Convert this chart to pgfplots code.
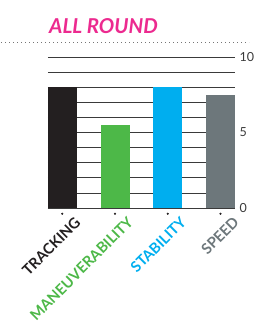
\documentclass[border=0pt]{standalone}
\usepackage{pgfplots}
\pgfplotsset{compat=1.18}
\usepackage{fontspec}
\setmainfont{Lato}
\definecolor{cTrack}{HTML}{231F20}
\definecolor{cMan}{HTML}{4DB848}
\definecolor{cStab}{HTML}{00AEEF}
\definecolor{cSpeed}{HTML}{6D777B}
\definecolor{cPink}{HTML}{EC2A8F}
\definecolor{cGrid}{HTML}{3A3A3A}
\begin{document}
\begin{tikzpicture}[x=1pt,y=1pt]
\useasboundingbox (0,0) rectangle (263,322);
\draw[cGrid!70, line width=0.9pt, dash pattern=on 0.9pt off 3.1pt] (1,280) -- (249,280);
\node[anchor=base west, text=cPink, font=\fontsize{20.5}{22}\selectfont\bfseries\itshape, inner sep=0pt] at (49,288) {ALL ROUND};
\begin{axis}[
  at={(48pt,114pt)}, anchor=south west,
  scale only axis, width=187pt, height=151pt,
  xmin=-0.271, xmax=3.275, ymin=0, ymax=10,
  axis line style={draw=none},
  ytick={0,1,...,10},
  yticklabels={0,,,,,5,,,,,10},
  yticklabel pos=right,
  ymajorgrids, grid style={cGrid, line width=0.8pt},
  major tick length=0pt,
  yticklabel style={font=\fontsize{12.5}{14}\selectfont, text=cGrid, xshift=1pt},
  /pgf/number format/assume math mode=true,
  xtick={0,1,2,3},
  xticklabels={},
  clip=false,
  ybar, bar width=29pt,
  bar shift=0pt,
]
\addplot[fill=cTrack, draw=none] coordinates {(0,8)};
\addplot[fill=cMan, draw=none] coordinates {(1,5.5)};
\addplot[fill=cStab, draw=none] coordinates {(2,8)};
\addplot[fill=cSpeed, draw=none] coordinates {(3,7.5)};
\addplot[only marks, mark=*, mark size=0.9pt, color=cTrack] coordinates {(0,-0.38) (1,-0.38) (2,-0.38) (3,-0.38)};
\draw[cGrid, line width=0.8pt] (axis cs:-0.271,0) -- (axis cs:3.275,0);
\node[rotate=45, anchor=north east, text=cTrack, font=\fontsize{14.8}{16}\selectfont\bfseries, inner sep=0pt] at (axis cs:0.22,-0.5) {TRACKING};
\node[rotate=45, anchor=north east, text=cMan, font=\fontsize{14.8}{16}\selectfont\bfseries, inner sep=0pt] at (axis cs:1.22,-0.5) {MANEUVERABILITY};
\node[rotate=45, anchor=north east, text=cStab, font=\fontsize{14.8}{16}\selectfont\bfseries, inner sep=0pt] at (axis cs:2.22,-0.5) {STABILITY};
\node[rotate=45, anchor=north east, text=cSpeed, font=\fontsize{14.8}{16}\selectfont\bfseries, inner sep=0pt] at (axis cs:3.22,-0.5) {SPEED};
\end{axis}
\end{tikzpicture}
\end{document}
